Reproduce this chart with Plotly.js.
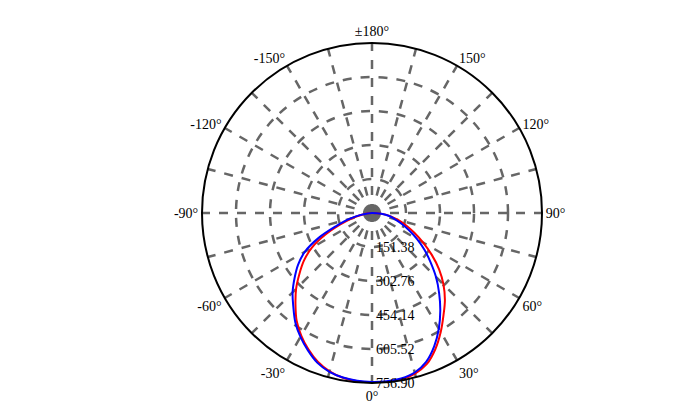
<!DOCTYPE html>
<html>
<head>
<meta charset="utf-8">
<script src="https://cdn.plot.ly/plotly-3.0.1.min.js"></script>
<style>html,body{margin:0;padding:0;background:#fff;}#chart{width:696px;height:409px;}</style>
</head>
<body>
<div id="chart"></div>
<script>
// Angles (degrees, 0 = straight down, positive to the right)
const angles = [-90,-85,-80,-75,-70,-65,-60,-55,-50,-45,-40,-35,-30,-25,-20,-15,-10,-5,0,5,10,15,20,25,30,35,40,45,50,55,60,65,70,75,80,85,90];
// Intensity values (cd) for the two curves
const redValues  = [0,15,45,95,150,230,310,370,422,478,530,585,630,670,705,730,745,752,755,755,752,740,715,668,612,555,505,450,390,325,262,208,162,122,85,45,0];
const blueValues = [0,20,55,110,170,262,345,402,450,500,545,595,637,675,710,732,744,750,752,752,748,735,705,655,595,530,465,403,340,285,232,182,140,105,78,42,0];

// Axis ticks
const radialTicks = [151.38, 302.76, 454.14, 605.52, 756.90];
const radialTickText = ["151.38", "302.76", "454.14", "605.52", "756.90"];
const angTickVals = [0,15,30,45,60,75,90,105,120,135,150,165,180,195,210,225,240,255,270,285,300,315,330,345];
const angTickText = ["0°","","30°","","60°","","90°","","120°","","150°","","±180°","","-150°","","-120°","","-90°","","-60°","","-30°",""];

const FONT = 'Liberation Serif, Times New Roman, serif';
const PAD = '\u00a0';

const traces = [
  {type:'scatterpolar', mode:'lines', r: redValues, theta: angles,
   line:{color:'#ff0000', width:2, shape:'spline', smoothing:1}, hoverinfo:'skip'},
  {type:'scatterpolar', mode:'lines', r: blueValues, theta: angles,
   line:{color:'#0000ff', width:2, shape:'spline', smoothing:1}, hoverinfo:'skip'}
];

const W = 696, H = 409, cx = 372, cy = 213, R = 170;
const layout = {
  width: W, height: H,
  margin:{l:0,r:0,t:0,b:0},
  paper_bgcolor:'#ffffff',
  showlegend:false,
  font:{family:FONT, size:14, color:'#000'},
  polar:{
    domain:{x:[(cx-R)/W,(cx+R)/W], y:[(H-cy-R)/H,(H-cy+R)/H]},
    bgcolor:'#ffffff',
    radialaxis:{
      range:[0,756.9], tickvals: radialTicks, ticktext: radialTickText.map(t => PAD + t),
      angle:-90, side:'counterclockwise', tickangle:-90,
      showline:false, ticks:'',
      gridcolor:'#666666', gridwidth:2.5, griddash:'dash',
      tickfont:{family:FONT, size:14, color:'#000'}
    },
    angularaxis:{
      rotation:-90, direction:'counterclockwise',
      tickmode:'array', tickvals: angTickVals, ticktext: angTickText,
      ticks:'', showline:true, linecolor:'#000000', linewidth:2,
      gridcolor:'#666666', gridwidth:2.5, griddash:'dash',
      tickfont:{family:FONT, size:14, color:'#000'}
    }
  }
};
Plotly.newPlot('chart', traces, layout, {displayModeBar:false, staticPlot:true});
</script>
</body>
</html>
